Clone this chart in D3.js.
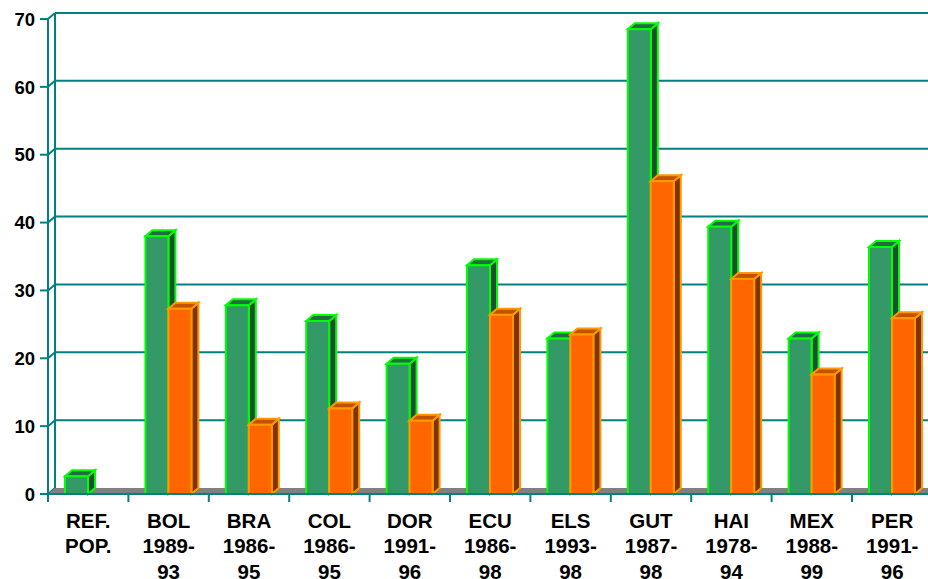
<!DOCTYPE html>
<html>
<head>
<meta charset="utf-8">
<script src="https://cdn.jsdelivr.net/npm/d3@7"></script>
<style>
  html, body { margin: 0; padding: 0; background: #ffffff; }
  svg { display: block; }
  text { font-family: "Liberation Sans", Arial, sans-serif; font-weight: bold; fill: #000; }
</style>
</head>
<body>
<svg id="chart" width="928" height="579"></svg>
<script>
// Category labels (one entry per line of the label)
const categories = ["REF", "BOL", "BRA", "COL", "DOR", "ECU", "ELS", "GUT", "HAI", "MEX", "PER"];
const categoryLabels = [
  ["REF.", "POP."],
  ["BOL", "1989-", "93"],
  ["BRA", "1986-", "95"],
  ["COL", "1986-", "95"],
  ["DOR", "1991-", "96"],
  ["ECU", "1986-", "98"],
  ["ELS", "1993-", "98"],
  ["GUT", "1987-", "98"],
  ["HAI", "1978-", "94"],
  ["MEX", "1988-", "99"],
  ["PER", "1991-", "96"]
];
// Series values
const greenValues  = [2.6, 38.0, 27.8, 25.5, 19.2, 33.7, 22.9, 68.5, 39.4, 22.9, 36.4];
const orangeValues = [null, 27.3, 10.2, 12.6, 10.8, 26.4, 23.5, 46.1, 31.7, 17.6, 25.9];
// Y axis ticks
const yTicks = [0, 10, 20, 30, 40, 50, 60, 70];

(function () {
  const svg = d3.select("#chart");
  const teal = "#008080";
  const DX = 7, DY = 6;           // depth offset of the 3D box
  const plotLeft = 48, plotBase = 494, plotTop = 19;
  const band = 80.4;
  const W = 928;

  const x = d3.scaleBand().domain(categories).range([plotLeft, plotLeft + band * categories.length]).padding(0);
  const inner = d3.scaleBand().domain(["green", "orange"]).range([17, 63]).padding(0);
  const y = d3.scaleLinear().domain([0, 70]).range([plotBase, plotTop]);

  // Back wall gridlines and the diagonals joining them to the front ticks
  const grid = svg.append("g");
  yTicks.forEach(t => {
    const fy = y(t), by = fy - DY;
    if (t > 0) {
      grid.append("line").attr("x1", plotLeft + DX).attr("x2", W).attr("y1", by).attr("y2", by)
        .attr("stroke", teal).attr("stroke-width", 2);
    }
    grid.append("line").attr("x1", plotLeft).attr("y1", fy).attr("x2", plotLeft + DX).attr("y2", by)
      .attr("stroke", teal).attr("stroke-width", 2);
  });
  // back wall vertical edge
  grid.append("line").attr("x1", plotLeft + DX).attr("x2", plotLeft + DX)
    .attr("y1", y(70) - DY).attr("y2", plotBase - DY)
    .attr("stroke", teal).attr("stroke-width", 2);

  // Floor
  svg.append("polygon")
    .attr("points", [[plotLeft, plotBase], [plotLeft + DX, plotBase - DY], [W, plotBase - DY], [W, plotBase]]
      .map(p => p.join(",")).join(" "))
    .attr("fill", "#808080");

  // 3D bars
  const styles = {
    green:  { front: "#339966", top: "#236b45", side: "#1f4d33", stroke: "#00ff00" },
    orange: { front: "#ff6600", top: "#c25100", side: "#803300", stroke: "#ff9900" }
  };

  const pts = a => a.map(p => p.join(",")).join(" ");
  function drawBar(g, x0, w, v, s) {
    const yt = y(v);
    g.append("polygon")
      .attr("points", pts([[x0 + w, yt], [x0 + w + DX, yt - DY], [x0 + w + DX, plotBase - DY], [x0 + w, plotBase]]))
      .attr("fill", s.side).attr("stroke", s.stroke).attr("stroke-width", 2);
    g.append("polygon")
      .attr("points", pts([[x0, yt], [x0 + DX, yt - DY], [x0 + w + DX, yt - DY], [x0 + w, yt]]))
      .attr("fill", s.top).attr("stroke", s.stroke).attr("stroke-width", 2);
    g.append("rect")
      .attr("x", x0).attr("y", yt).attr("width", w).attr("height", plotBase - yt)
      .attr("fill", s.front).attr("stroke", s.stroke).attr("stroke-width", 2);
  }

  const bars = svg.append("g");
  categories.forEach((c, i) => {
    const x0 = x(c);
    const w = inner.bandwidth();
    if (greenValues[i] != null) drawBar(bars, x0 + inner("green"), w, greenValues[i], styles.green);
    if (orangeValues[i] != null) drawBar(bars, x0 + inner("orange"), w, orangeValues[i], styles.orange);
  });

  // Front axes
  const axes = svg.append("g");
  axes.append("line").attr("x1", plotLeft).attr("x2", W).attr("y1", plotBase).attr("y2", plotBase)
    .attr("stroke", teal).attr("stroke-width", 2);
  axes.append("line").attr("x1", plotLeft).attr("x2", plotLeft).attr("y1", plotTop - 1).attr("y2", plotBase + 8)
    .attr("stroke", teal).attr("stroke-width", 2);

  // Y ticks and labels
  yTicks.forEach(t => {
    axes.append("line").attr("x1", plotLeft - 8).attr("x2", plotLeft).attr("y1", y(t)).attr("y2", y(t))
      .attr("stroke", teal).attr("stroke-width", 2);
    axes.append("text").attr("x", 35).attr("y", y(t)).attr("dy", "0.36em")
      .attr("text-anchor", "end").style("font-size", "18.5px").text(t);
  });

  // Category boundary ticks
  categories.forEach(c => {
    const bx = x(c);
    axes.append("line").attr("x1", bx).attr("x2", bx).attr("y1", plotBase).attr("y2", plotBase + 8)
      .attr("stroke", teal).attr("stroke-width", 2);
  });

  // Category labels
  categories.forEach((c, i) => {
    const cx = x(c) + x.bandwidth() / 2;
    const t = axes.append("text").attr("text-anchor", "middle").style("font-size", "20.5px");
    categoryLabels[i].forEach((line, k) => {
      t.append("tspan").attr("x", cx).attr("y", 527.6 + k * 25.6).text(line);
    });
  });
})();
</script>
</body>
</html>
